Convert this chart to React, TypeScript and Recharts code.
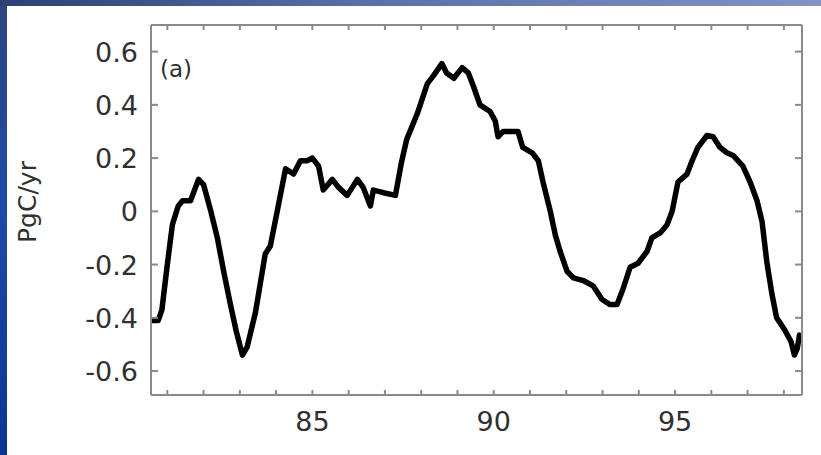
import React from "react";
import { LineChart, Line, XAxis, YAxis } from "recharts";

const years = [
  80.58, 80.75, 80.85, 81.0, 81.14, 81.3, 81.42, 81.64, 81.86, 82.0, 82.2, 82.38, 82.56, 82.74, 82.9, 83.07,
  83.2, 83.43, 83.7, 83.84, 84.03, 84.26, 84.48, 84.67, 84.85, 85.0, 85.17, 85.3, 85.55, 85.72, 85.96, 86.24,
  86.4, 86.6, 86.68, 86.96, 87.29, 87.45, 87.6, 87.9, 88.17, 88.34, 88.57, 88.7, 88.9, 89.13, 89.3, 89.44,
  89.62, 89.9, 90.04, 90.12, 90.26, 90.67, 90.8, 91.06, 91.23, 91.36, 91.56, 91.7, 91.83, 92.02, 92.2, 92.47,
  92.74, 92.98, 93.2, 93.4, 93.57, 93.76, 93.98, 94.23, 94.36, 94.6, 94.78, 94.92, 95.08, 95.33, 95.47, 95.63,
  95.88, 96.05, 96.24, 96.43, 96.6, 96.87, 97.07, 97.26, 97.4, 97.53, 97.67, 97.8, 98.02, 98.2, 98.29, 98.37,
  98.43,
];

const flux = [
  -0.41, -0.41, -0.37, -0.2, -0.05, 0.02, 0.04, 0.04, 0.12, 0.1, 0.0, -0.1, -0.23, -0.35, -0.45, -0.54,
  -0.51, -0.38, -0.16, -0.13, 0.0, 0.16, 0.14, 0.19, 0.19, 0.2, 0.17, 0.08, 0.12, 0.09, 0.06, 0.12,
  0.09, 0.02, 0.08, 0.07, 0.06, 0.18, 0.27, 0.37, 0.48, 0.51, 0.555, 0.52, 0.5, 0.54, 0.52, 0.47,
  0.4, 0.375, 0.34, 0.28, 0.3, 0.3, 0.24, 0.22, 0.19, 0.11, 0.0, -0.09, -0.15, -0.225, -0.25, -0.26,
  -0.28, -0.33, -0.35, -0.35, -0.29, -0.21, -0.195, -0.15, -0.1, -0.08, -0.05, 0.0, 0.11, 0.14, 0.19, 0.24,
  0.285, 0.28, 0.24, 0.22, 0.21, 0.17, 0.11, 0.04, -0.04, -0.19, -0.31, -0.4, -0.445, -0.49, -0.54, -0.515,
  -0.465,
];

const xTicks = [81, 82, 83, 84, 85, 86, 87, 88, 89, 90, 91, 92, 93, 94, 95, 96, 97, 98];
const xLabelled = [85, 90, 95];
const yTicks = [-0.6, -0.4, -0.2, 0, 0.2, 0.4, 0.6];
const yLabels = ["-0.6", "-0.4", "-0.2", "0", "0.2", "0.4", "0.6"];

const data = years.map((y, i) => ({ year: y, v: flux[i] }));

const AXIS = "#8a8a8a";
const FONT = "DejaVu Sans, sans-serif";
const TEXT = "#303030";

const BottomTick = (props: any) => {
  const { x, y, payload } = props;
  const v = payload.value;
  const labelled = xLabelled.indexOf(Math.round(v)) >= 0;
  return (
    <g>
      <line x1={x} x2={x} y1={y} y2={y - 5} stroke={AXIS} strokeWidth={2} />
      {labelled ? (
        <text x={x} y={y + 36} textAnchor="middle" fontFamily={FONT} fontSize={27} fill={TEXT}>
          {String(Math.round(v))}
        </text>
      ) : null}
    </g>
  );
};

const TopTick = (props: any) => {
  const { x, y } = props;
  return <line x1={x} x2={x} y1={y} y2={y + 5} stroke={AXIS} strokeWidth={2} />;
};

const LeftTick = (props: any) => {
  const { x, y, payload, index } = props;
  const idx = yTicks.findIndex((t) => Math.abs(t - payload.value) < 1e-6);
  return (
    <g>
      <line x1={x} x2={x + 7} y1={y} y2={y} stroke={AXIS} strokeWidth={2} />
      <text x={x - 13} y={y + 10} textAnchor="end" fontFamily={FONT} fontSize={27} fill={TEXT}>
        {yLabels[idx >= 0 ? idx : index]}
      </text>
    </g>
  );
};

const RightTick = (props: any) => {
  const { x, y } = props;
  return <line x1={x} x2={x - 7} y1={y} y2={y} stroke={AXIS} strokeWidth={2} />;
};

export default function App() {
  return (
    <div
      style={{
        position: "fixed",
        left: 0,
        top: 0,
        width: 821,
        height: 455,
        overflow: "hidden",
        background: "linear-gradient(to bottom, #2d4680 0%, #1f4aa8 45%, #0b3592 100%)",
      }}
    >
      <div
        style={{
          position: "absolute",
          left: 0,
          top: 0,
          width: 821,
          height: 7,
          background: "linear-gradient(to right, #2c4275 0%, #5a70a8 45%, #8293c4 100%)",
        }}
      />
      <div
        style={{
          position: "absolute",
          left: 7,
          top: 6,
          width: 814,
          height: 449,
          background: "#ffffff",
        }}
      />
      <div style={{ position: "absolute", left: 0, top: 0 }}>
        <LineChart
          width={821}
          height={455}
          data={data}
          margin={{ top: 24, right: 18, bottom: 59, left: 91 }}
        >
          <XAxis
            dataKey="year"
            type="number"
            domain={[80.55, 98.5]}
            ticks={xTicks}
            allowDataOverflow
            axisLine={{ stroke: AXIS, strokeWidth: 2 }}
            tickLine={false}
            tickSize={0}
            tickMargin={0}
            height={1}
            tick={<BottomTick />}
            interval={0}
          />
          <XAxis
            xAxisId="top"
            orientation="top"
            dataKey="year"
            type="number"
            domain={[80.55, 98.5]}
            ticks={xTicks}
            allowDataOverflow
            axisLine={{ stroke: AXIS, strokeWidth: 2 }}
            tickLine={false}
            tickSize={0}
            tickMargin={0}
            height={1}
            tick={<TopTick />}
            interval={0}
          />
          <YAxis
            type="number"
            domain={[-0.69, 0.7]}
            ticks={yTicks}
            allowDataOverflow
            axisLine={{ stroke: AXIS, strokeWidth: 2 }}
            tickLine={false}
            tickSize={0}
            tickMargin={0}
            width={60}
            tick={<LeftTick />}
            interval={0}
          />
          <YAxis
            yAxisId="right"
            orientation="right"
            type="number"
            domain={[-0.69, 0.7]}
            ticks={yTicks}
            allowDataOverflow
            axisLine={{ stroke: AXIS, strokeWidth: 2 }}
            tickLine={false}
            tickSize={0}
            tickMargin={0}
            width={1}
            tick={<RightTick />}
            interval={0}
          />
          <Line
            type="linear"
            dataKey="v"
            stroke="#000000"
            strokeWidth={5.5}
            strokeLinejoin="round"
            strokeLinecap="round"
            dot={false}
            isAnimationActive={false}
          />
        </LineChart>
      </div>
      <div
        style={{
          position: "absolute",
          left: 160,
          top: 56,
          fontFamily: FONT,
          fontSize: 23,
          color: TEXT,
          lineHeight: "26px",
        }}
      >
        (a)
      </div>
      <div
        style={{
          position: "absolute",
          left: 28,
          top: 202,
          transform: "translate(-50%, -50%) rotate(-90deg)",
          fontFamily: FONT,
          fontSize: 25,
          color: TEXT,
          whiteSpace: "nowrap",
          lineHeight: "28px",
        }}
      >
        PgC/yr
      </div>
    </div>
  );
}
